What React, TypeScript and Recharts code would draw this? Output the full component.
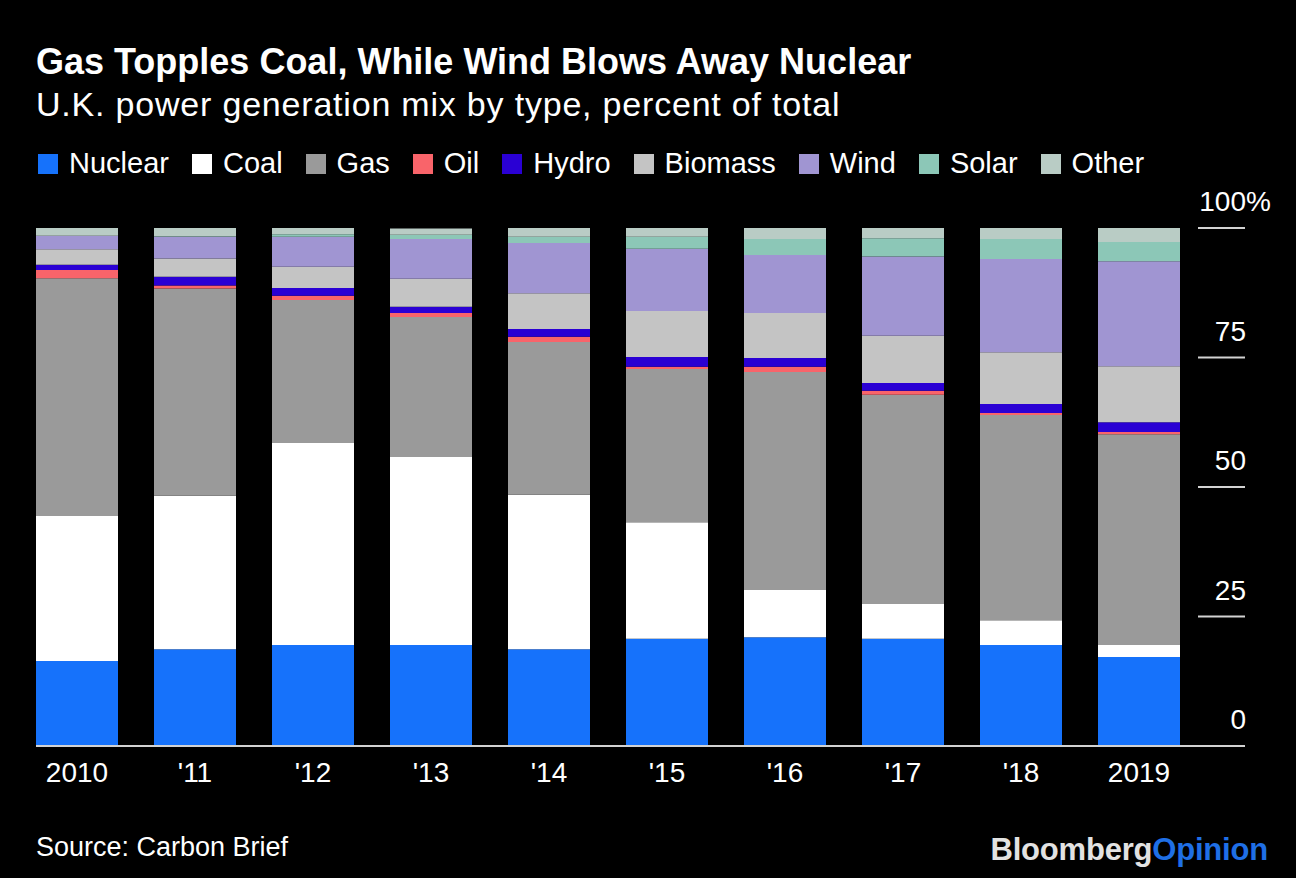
import { BarChart, Bar, XAxis, YAxis } from "recharts";

const years = ["2010", "'11", "'12", "'13", "'14", "'15", "'16", "'17", "'18", "2019"];
const nuclear = [16.4, 18.7, 19.5, 19.5, 18.7, 20.7, 21.0, 20.7, 19.5, 17.2];
const coal = [28.0, 29.6, 39.0, 36.3, 29.8, 22.5, 9.1, 6.7, 4.8, 2.3];
const gas = [45.9, 40.0, 27.6, 27.0, 29.5, 29.6, 42.1, 40.4, 39.6, 40.7];
const oil = [1.6, 0.6, 0.8, 0.8, 1.0, 0.4, 1.0, 0.8, 0.4, 0.4];
const hydro = [1.0, 1.7, 1.5, 1.2, 1.5, 1.9, 1.7, 1.5, 1.7, 1.9];
const biomass = [3.0, 3.5, 4.1, 5.4, 6.9, 8.9, 8.7, 9.1, 10.0, 10.8];
const wind = [2.6, 4.2, 5.8, 7.7, 9.7, 12.0, 11.2, 15.3, 18.0, 20.3];
const solar = [0, 0.1, 0.5, 0.8, 1.2, 2.3, 3.1, 3.5, 3.9, 3.7];
const other = [1.5, 1.6, 1.2, 1.2, 1.7, 1.7, 2.1, 2.1, 2.1, 2.7];
const yTicks = [0, 25, 50, 75, 100];

const series = [
  { key: "nuclear", name: "Nuclear", color: "#1672fb", values: nuclear },
  { key: "coal", name: "Coal", color: "#ffffff", values: coal },
  { key: "gas", name: "Gas", color: "#9a9a9a", values: gas },
  { key: "oil", name: "Oil", color: "#f9646a", values: oil },
  { key: "hydro", name: "Hydro", color: "#2a00d4", values: hydro },
  { key: "biomass", name: "Biomass", color: "#c4c4c4", values: biomass },
  { key: "wind", name: "Wind", color: "#a095d2", values: wind },
  { key: "solar", name: "Solar", color: "#8cc7b7", values: solar },
  { key: "other", name: "Other", color: "#b9ccc5", values: other },
];

const data = years.map((y, i) => {
  const row: any = { year: y };
  series.forEach((s) => (row[s.key] = s.values[i]));
  return row;
});

const font = "'Liberation Sans', Arial, Helvetica, sans-serif";

const YTick = (props: any) => {
  const { x, y, payload } = props;
  const v = payload.value;
  return (
    <g>
      <line x1={v === 0 ? 36 : x} x2={x + 47} y1={y} y2={y} stroke="#d2d2d2" strokeWidth={2} />
      <text x={x + 48} y={y - 17} textAnchor="end" fill="#fff" fontSize={28} fontFamily={font}>
        {v}
      </text>
      {v === 100 && (
        <text x={x + 48} y={y - 17} fill="#fff" fontSize={28} fontFamily={font}>
          %
        </text>
      )}
    </g>
  );
};

export default function App() {
  return (
    <div
      style={{
        position: "absolute",
        left: 0,
        top: 0,
        width: 1296,
        height: 878,
        background: "#000",
        fontFamily: font,
        color: "#fff",
        overflow: "hidden",
      }}
    >
      <div style={{ position: "absolute", left: 36, top: 44, fontSize: 36, lineHeight: 1, fontWeight: 700, whiteSpace: "nowrap" }}>
        Gas Topples Coal, While Wind Blows Away Nuclear
      </div>
      <div style={{ position: "absolute", left: 36, top: 87, fontSize: 34, lineHeight: 1, letterSpacing: 0.8, whiteSpace: "nowrap" }}>
        U.K. power generation mix by type, percent of total
      </div>
      <div style={{ position: "absolute", left: 38, top: 149, display: "flex", fontSize: 29, lineHeight: 1, whiteSpace: "nowrap" }}>
        {series.map((s) => (
          <div key={s.key} style={{ display: "flex", alignItems: "center", marginRight: 23 }}>
            <span style={{ width: 20, height: 20, background: s.color, marginRight: 11, display: "inline-block" }} />
            <span>{s.name}</span>
          </div>
        ))}
      </div>

      <div style={{ position: "absolute", left: 0, top: 0 }}>
        <BarChart width={1296} height={878} data={data} margin={{ top: 228, right: 0, bottom: 0, left: 18 }}>
          <XAxis
            dataKey="year"
            height={132}
            axisLine={false}
            tickLine={false}
            tickSize={0}
            tickMargin={16}
            interval={0}
            tick={{ fill: "#fff", fontSize: 28, fontFamily: font }}
          />
          <YAxis
            orientation="right"
            width={98}
            domain={[0, 100]}
            allowDataOverflow
            ticks={yTicks}
            axisLine={false}
            tickLine={false}
            tickSize={0}
            tickMargin={0}
            tick={<YTick />}
          />
          {series.map((s) => (
            <Bar key={s.key} dataKey={s.key} stackId="a" fill={s.color} barSize={82} isAnimationActive={false} />
          ))}
        </BarChart>
      </div>

      <div style={{ position: "absolute", left: 36, top: 834, fontSize: 27, lineHeight: 1, whiteSpace: "nowrap" }}>
        Source: Carbon Brief
      </div>
      <div
        style={{
          position: "absolute",
          right: 28,
          top: 834,
          fontSize: 31,
          lineHeight: 1,
          fontWeight: 700,
          letterSpacing: -0.2,
          whiteSpace: "nowrap",
        }}
      >
        <span style={{ color: "#e2e2e2" }}>Bloomberg</span>
        <span style={{ color: "#1f6fe6" }}>Opinion</span>
      </div>
    </div>
  );
}
